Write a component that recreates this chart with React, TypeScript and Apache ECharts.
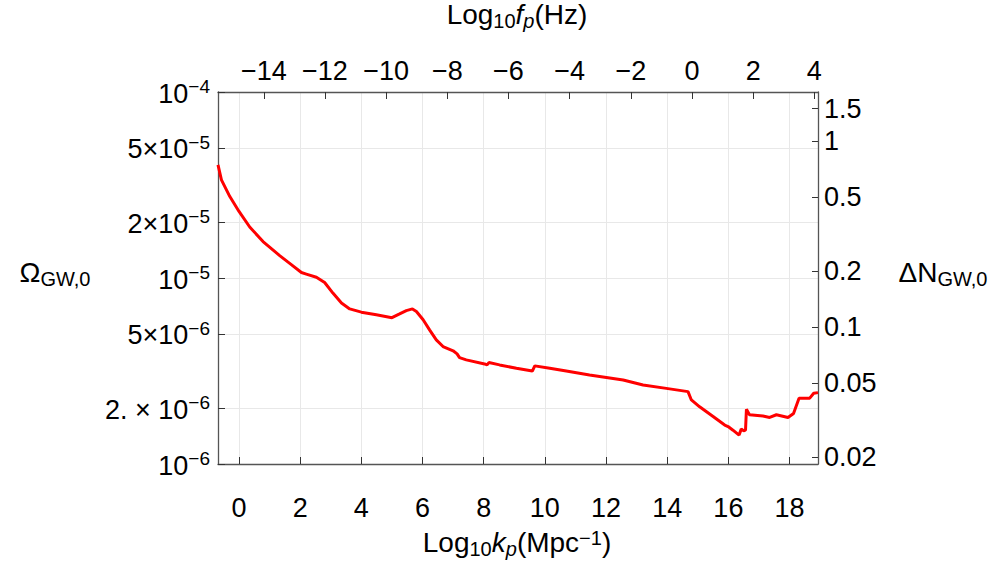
import React, { useEffect, useRef } from "react";
import * as echarts from "echarts";

// ---- data ----
const logK = [-0.687, -0.575, -0.3, 0, 0.35, 0.785, 1.33, 1.71, 2.04, 2.2, 2.53, 2.8, 3.07, 3.35, 3.62, 4.0, 4.49, 5.0, 5.25, 5.47, 5.67, 5.8, 6.02, 6.23, 6.45, 6.67, 7.0, 7.13, 7.21, 7.43, 8.03, 8.11, 8.17, 8.52, 9.07, 9.59, 9.67, 10.16, 10.7, 11.46, 12.56, 13.21, 13.97, 14.68, 14.79, 15.06, 15.5, 15.88, 15.99, 16.15, 16.35, 16.42, 16.5, 16.56, 16.59, 16.69, 17.13, 17.35, 17.57, 17.95, 18.13, 18.31, 18.66, 18.79, 18.93];
const omegaGW = [4.06e-5, 3.37e-5, 2.74e-5, 2.28e-5, 1.88e-5, 1.57e-5, 1.32e-5, 1.18e-5, 1.07e-5, 1.05e-5, 1.01e-5, 9.46e-6, 8.3e-6, 7.33e-6, 6.82e-6, 6.55e-6, 6.34e-6, 6.12e-6, 6.41e-6, 6.68e-6, 6.82e-6, 6.61e-6, 5.96e-6, 5.26e-6, 4.65e-6, 4.28e-6, 4.06e-6, 3.91e-6, 3.73e-6, 3.63e-6, 3.45e-6, 3.41e-6, 3.51e-6, 3.41e-6, 3.27e-6, 3.16e-6, 3.37e-6, 3.27e-6, 3.16e-6, 3.01e-6, 2.83e-6, 2.66e-6, 2.55e-6, 2.45e-6, 2.21e-6, 2.03e-6, 1.8e-6, 1.62e-6, 1.59e-6, 1.52e-6, 1.43e-6, 1.54e-6, 1.51e-6, 1.52e-6, 1.97e-6, 1.84e-6, 1.81e-6, 1.78e-6, 1.84e-6, 1.78e-6, 1.87e-6, 2.26e-6, 2.26e-6, 2.4e-6, 2.42e-6];

const bottomTicks = [0, 2, 4, 6, 8, 10, 12, 14, 16, 18];
const topTicks = [-14, -12, -10, -8, -6, -4, -2, 0, 2, 4];
const leftTickValues = [1e-6, 2e-6, 5e-6, 1e-5, 2e-5, 5e-5, 1e-4];
const leftTickMantissa = ["", "2. × ", "5×", "", "2×", "5×", ""];
const leftTickExponent = ["−6", "−6", "−6", "−5", "−5", "−5", "−4"];
const rightTickValues = [0.02, 0.05, 0.1, 0.2, 0.5, 1, 1.5];
const rightTickLabels = ["0.02", "0.05", "0.1", "0.2", "0.5", "1", "1.5"];

const K_TO_F_SHIFT = 14.81; // log10 f_p(Hz) = log10 k_p(Mpc^-1) - 14.81
const DN_PER_OMEGA = 18400;
const kMin = -0.687;
const kMax = 18.93;
const omegaMin = 1e-6;
const omegaMax = 1e-4;

const FONT = "'Liberation Sans', Arial, sans-serif";
const FS = 27;

function fmtInt(v: number) {
  const r = Math.round(v);
  return r < 0 ? "−" + Math.abs(r) : String(r);
}

export default function App() {
  const ref = useRef<HTMLDivElement>(null);
  useEffect(() => {
    if (!ref.current) return;
    const chart = echarts.init(ref.current, null, { renderer: "svg" });
    const leftLog = leftTickValues.map((v) => Math.log10(v));
    const rightLog = rightTickValues.map((v) => Math.log10(v));
    const frameColor = "#555";
    const tickColor = "#333";
    const baseLabel = { color: "#000", fontSize: FS, fontFamily: FONT };
    const richSup = {
      m: { fontSize: FS, fontFamily: FONT, color: "#000", lineHeight: 30, verticalAlign: "bottom" },
      e: { fontSize: 19, fontFamily: FONT, color: "#000", lineHeight: 19, verticalAlign: "top" },
    };
    const TF = 28;
    const txtRich = {
      n: { fontSize: TF, fontFamily: FONT, fill: "#000", lineHeight: 28, verticalAlign: "bottom" },
      i: { fontSize: TF, fontFamily: FONT, fontStyle: "italic", fill: "#000", lineHeight: 28, verticalAlign: "bottom" },
      s: { fontSize: 20, fontFamily: FONT, fill: "#000", lineHeight: 18, verticalAlign: "bottom", padding: [0, 0, -3, 0] },
      si: { fontSize: 20, fontFamily: FONT, fontStyle: "italic", fill: "#000", lineHeight: 18, verticalAlign: "bottom", padding: [0, 0, -3, 0] },
      e: { fontSize: 20, fontFamily: FONT, fill: "#000", lineHeight: 18, verticalAlign: "top" },
    };

    chart.setOption({
      animation: false,
      backgroundColor: "#fff",
      grid: { left: 218, right: 176, top: 92, bottom: 97, containLabel: false },
      xAxis: [
        {
          type: "value",
          position: "bottom",
          min: kMin,
          max: kMax,
          axisLine: { show: true, onZero: false, lineStyle: { color: frameColor, width: 1.3 } },
          axisTick: { show: true, inside: true, length: 7, customValues: bottomTicks, lineStyle: { color: tickColor, width: 1 } },
          axisLabel: { ...baseLabel, customValues: bottomTicks, formatter: (v: number) => fmtInt(v), margin: 30 },
          splitLine: { show: true, lineStyle: { color: "#e8e8e8", width: 1 } },
        },
        {
          type: "value",
          position: "top",
          min: kMin - K_TO_F_SHIFT,
          max: kMax - K_TO_F_SHIFT,
          axisLine: { show: true, onZero: false, lineStyle: { color: frameColor, width: 1.3 } },
          axisTick: { show: true, inside: true, length: 7, customValues: topTicks, lineStyle: { color: tickColor, width: 1 } },
          axisLabel: { ...baseLabel, customValues: topTicks, formatter: (v: number) => fmtInt(v), margin: 8 },
          splitLine: { show: false },
        },
      ],
      yAxis: [
        {
          type: "value",
          position: "left",
          min: Math.log10(omegaMin),
          max: Math.log10(omegaMax),
          axisLine: { show: true, onZero: false, lineStyle: { color: frameColor, width: 1.3 } },
          axisTick: { show: true, inside: true, length: 7, customValues: leftLog, lineStyle: { color: tickColor, width: 1 } },
          axisLabel: {
            customValues: leftLog,
            margin: 8,
            formatter: (v: number) => {
              let idx = 0;
              let best = Infinity;
              leftLog.forEach((l, i) => {
                const d = Math.abs(l - v);
                if (d < best) { best = d; idx = i; }
              });
              return "{m|" + leftTickMantissa[idx] + "10}{e|" + leftTickExponent[idx] + "}";
            },
            rich: richSup,
          },
          splitLine: { show: true, lineStyle: { color: "#e8e8e8", width: 1 } },
        },
        {
          type: "value",
          position: "right",
          min: Math.log10(omegaMin * DN_PER_OMEGA),
          max: Math.log10(omegaMax * DN_PER_OMEGA),
          axisLine: { show: true, onZero: false, lineStyle: { color: frameColor, width: 1.3 } },
          axisTick: { show: true, inside: true, length: 6, customValues: rightLog, lineStyle: { color: tickColor, width: 1 } },
          axisLabel: {
            ...baseLabel,
            customValues: rightLog,
            margin: 6,
            formatter: (v: number) => {
              let idx = 0;
              let best = Infinity;
              rightLog.forEach((l, i) => {
                const d = Math.abs(l - v);
                if (d < best) { best = d; idx = i; }
              });
              return rightTickLabels[idx];
            },
          },
          splitLine: { show: false },
        },
      ],
      series: [
        {
          type: "line",
          xAxisIndex: 0,
          yAxisIndex: 0,
          data: logK.map((k, i) => [k, Math.log10(omegaGW[i])]),
          showSymbol: false,
          symbol: "none",
          lineStyle: { color: "#ff0000", width: 3 },
          clip: true,
        },
      ],
      graphic: [
        {
          type: "text",
          x: 517,
          y: 14,
          style: { text: "{n|Log}{s|10}{i|f}{si|p}{n|(Hz)}", rich: txtRich, align: "center", verticalAlign: "middle" },
        },
        {
          type: "text",
          x: 517,
          y: 542,
          style: { text: "{n|Log}{s|10}{i|k}{si|p}{n|(Mpc}{e|−1}{n|)}", rich: txtRich, align: "center", verticalAlign: "middle" },
        },
        {
          type: "text",
          x: 55,
          y: 272,
          style: { text: "{n|Ω}{s|GW,0}", rich: txtRich, align: "center", verticalAlign: "middle" },
        },
        {
          type: "text",
          x: 943,
          y: 272,
          style: { text: "{n|ΔN}{s|GW,0}", rich: txtRich, align: "center", verticalAlign: "middle" },
        },
      ],
    });
    return () => chart.dispose();
  }, []);
  return <div ref={ref} style={{ position: "absolute", left: 0, top: 0, width: 994, height: 561 }} />;
}
